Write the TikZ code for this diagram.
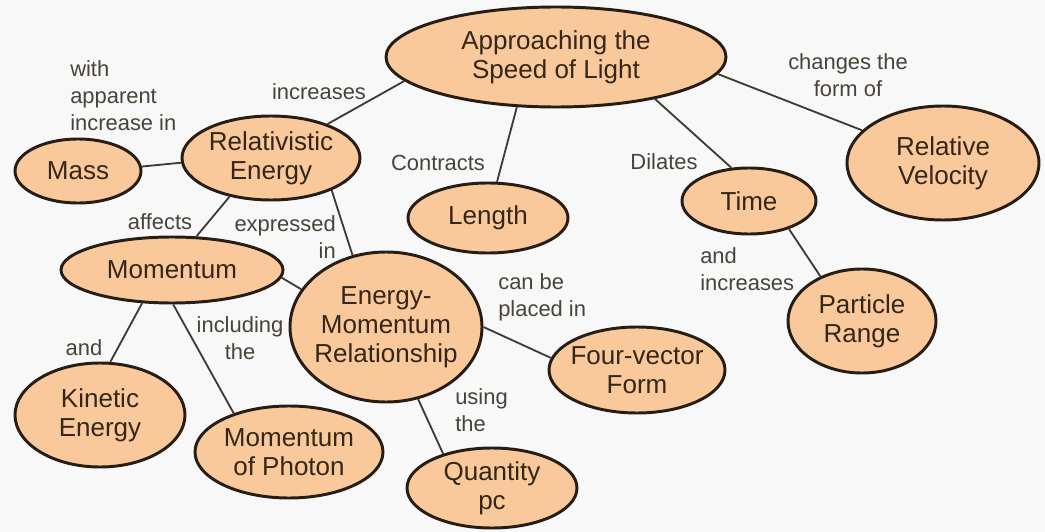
\documentclass[tikz,border=0pt]{standalone}
\usepackage{fontspec}
\setmainfont{Liberation Sans}
\usepackage{xcolor}
\usepackage{tikz}
\usetikzlibrary{shapes.geometric}

\definecolor{bgcol}{RGB}{248,248,248}
\definecolor{peach}{RGB}{249,201,155}
\definecolor{rimcol}{RGB}{38,29,21}
\definecolor{linkcol}{RGB}{62,58,52}
\definecolor{conceptink}{RGB}{52,38,25}
\definecolor{linkink}{RGB}{72,67,58}

\begin{document}
\begin{tikzpicture}[
    x=0.25mm, y=-0.25mm,
    concept/.style={ellipse, draw=rimcol, fill=peach, line width=2.1pt,
                    inner sep=-4pt, align=center, text=conceptink,
                    font=\fontsize{18.5}{20.5}\selectfont},
    link/.style={draw=linkcol, line width=1.3pt},
    linktext/.style={text=linkink, inner sep=0pt,
                     font=\fontsize{15.6}{19.2}\selectfont}
  ]
  \path[use as bounding box, fill=bgcol] (0,0) rectangle (1045,532);

  % concepts
  \node[concept, minimum width=85mm, minimum height=25mm] (appr) at (556,57) {Approaching the\\Speed of Light};
  \node[concept, minimum width=44.5mm, minimum height=21mm] (relen) at (271,158) {Relativistic\\Energy};
  \node[concept, minimum width=31.5mm, minimum height=16mm] (mass) at (78,171) {Mass};
  \node[concept, minimum width=40mm, minimum height=17.5mm] (length) at (488,218) {Length};
  \node[concept, minimum width=33.5mm, minimum height=16.5mm] (time) at (749,201) {Time};
  \node[concept, minimum width=48mm, minimum height=28.5mm] (relvel) at (943,163) {Relative\\Velocity};
  \node[concept, minimum width=55.5mm, minimum height=16.5mm] (mom) at (172,270) {Momentum};
  \node[concept, minimum width=48mm, minimum height=37.5mm] (emr) at (386,327) {Energy-\\Momentum\\Relationship};
  \node[concept, minimum width=44mm, minimum height=21.5mm] (four) at (637,370) {Four-vector\\Form};
  \node[concept, minimum width=37mm, minimum height=26mm] (particle) at (862,321) {Particle\\Range};
  \node[concept, minimum width=42.5mm, minimum height=26mm] (kinetic) at (100,415) {Kinetic\\Energy};
  \node[concept, minimum width=47mm, minimum height=23mm] (photon) at (289,452) {Momentum\\of Photon};
  \node[concept, minimum width=42.5mm, minimum height=20mm] (quantity) at (492,488) {Quantity\\pc};

  % links
  \draw[link] (appr.-171) -- (relen.31);
  \draw[link] (appr.-128) -- (length.76);
  \draw[link] (appr.-23) -- (time.118);
  \draw[link] (appr.-6) -- (relvel.158);
  \draw[link] (relen.183) -- (mass.4);
  \draw[link] (relen.-137) -- (mom.54);
  \draw[link] (relen.-28) -- (emr.115);
  \draw[link] (mom.-4) -- (emr.156);
  \draw[link] (mom.-132) -- (kinetic.79);
  \draw[link] (mom.-88) -- (photon.145);
  \draw[link] (emr.0) -- (four.172);
  \draw[link] (emr.-66) -- (quantity.145);
  \draw[link] (time.-35) -- (particle.133);

  % link words
  \node[linktext, anchor=west, align=left] (tmass) at (70,96) {with\\apparent\\increase in};
  \node[linktext] (tincr) at (319,92) {increases};
  \node[linktext] (tcontr) at (438,163) {Contracts};
  \node[linktext] (tdil) at (664,162) {Dilates};
  \node[linktext, align=center] (tchg) at (848,75) {changes the\\form of};
  \node[linktext] (taff) at (160,222) {affects};
  \node[linktext, anchor=east, align=right] (texpr) at (336,237) {expressed\\in};
  \node[linktext] (tand) at (84,348) {and};
  \node[linktext, align=center] (tincl) at (240,338) {including\\the};
  \node[linktext, anchor=west, align=left] (tcan) at (498,297) {can be\\placed in};
  \node[linktext, anchor=west, align=left] (tusing) at (455,410) {using\\the};
  \node[linktext, anchor=west, align=left] (tandinc) at (700,269) {and\\increases};
\end{tikzpicture}
\end{document}
